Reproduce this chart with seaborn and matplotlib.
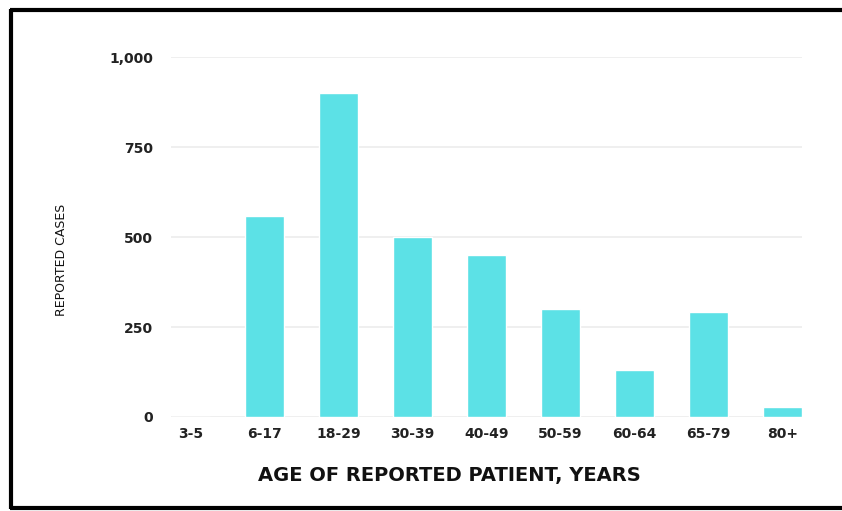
import pandas as pd
import matplotlib
matplotlib.use("Agg")
import matplotlib.pyplot as plt
import seaborn as sns
from matplotlib.lines import Line2D

# Data
age_groups = ["3-5", "6-17", "18-29", "30-39", "40-49", "50-59", "60-64", "65-79", "80+"]
cases = [0, 560, 900, 500, 450, 300, 130, 292, 28]
y_ticks = [0, 250, 500, 750, 1000]
y_tick_labels = ["0", "250", "500", "750", "1,000"]

df = pd.DataFrame({"age": age_groups, "cases": cases})

sns.set_theme(style="white")
plt.rcParams["font.family"] = ["DejaVu Sans"]

fig = plt.figure(figsize=(8.42, 5.11), dpi=100, facecolor="white")
ax = fig.add_axes([0.203, 0.184, 0.7495, 0.704])

sns.barplot(data=df, x="age", y="cases", color="#5ce1e6", saturation=1,
            width=0.53, ax=ax, zorder=3)

ax.set_ylim(0, 1000)
ax.set_xlim(-0.27, 8.265)
ax.set_yticks(y_ticks)
ax.set_yticklabels(y_tick_labels)
ax.grid(axis="y", color="#ececec", linewidth=1.2, zorder=0)
ax.grid(axis="x", visible=False)
for s in ax.spines.values():
    s.set_visible(False)
ax.tick_params(axis="both", length=0, labelsize=10, colors="#222222")
ax.tick_params(axis="y", pad=13)
ax.tick_params(axis="x", pad=7)
for lbl in ax.get_xticklabels() + ax.get_yticklabels():
    lbl.set_fontweight("bold")

ax.set_xlabel("")
ax.set_ylabel("")
fig.text(449 / 842, 1 - 476 / 511, "AGE OF REPORTED PATIENT, YEARS",
         ha="center", va="center", fontsize=14, fontweight="bold", color="#111111")
fig.text(62 / 842, 1 - 260 / 511, "REPORTED CASES", rotation=90,
         ha="center", va="center", fontsize=9, color="#111111")

# black frame (left, top, bottom), right side runs off the image
lw = 3
frame_kw = dict(color="black", linewidth=lw, transform=fig.transFigure, solid_capstyle="butt")
fig.add_artist(Line2D([11 / 842, 11 / 842], [1 - 9 / 511, 1 - 509 / 511], **frame_kw))
fig.add_artist(Line2D([9.5 / 842, 1], [1 - 10 / 511, 1 - 10 / 511], **frame_kw))
fig.add_artist(Line2D([9.5 / 842, 1], [1 - 508 / 511, 1 - 508 / 511], **frame_kw))

fig.savefig("out.png", dpi=100, facecolor="white")
